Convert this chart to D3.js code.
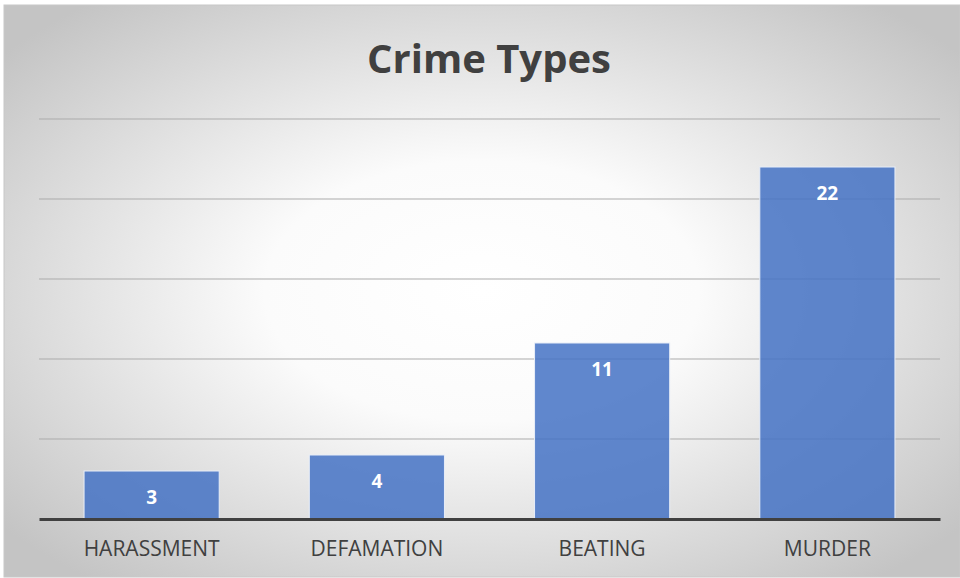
<!DOCTYPE html>
<html>
<head>
<meta charset="utf-8">
<script src="https://cdn.jsdelivr.net/npm/d3@7"></script>
<style>
  body { margin: 0; background: #fff; }
  svg { display: block; }
</style>
</head>
<body>
<div class="container"></div>
<script>
"use strict";

var categories = ["HARASSMENT", "DEFAMATION", "BEATING", "MURDER"];
var values = [3, 4, 11, 22];
var gridTicks = [0, 5, 10, 15, 20, 25];

var w = 960, h = 578;
var plotLeft = 39, plotRight = 940, plotTop = 119, plotBottom = 519;

var svg = d3.select(".container").append("svg").attr("width", w).attr("height", h);

//Background gradient
var defs = svg.append("defs");
var grad = defs.append("radialGradient").attr("id", "bg").attr("cx", "50%").attr("cy", "50%").attr("r", "65%");
grad.append("stop").attr("offset", "0%").attr("stop-color", "#ffffff");
grad.append("stop").attr("offset", "35%").attr("stop-color", "#fbfbfb");
grad.append("stop").attr("offset", "100%").attr("stop-color", "#c4c4c4");

svg.append("rect").attr("x", 4).attr("y", 5).attr("width", 956).attr("height", 572)
  .attr("fill", "url(#bg)").attr("stroke", "#c8c8c8").attr("stroke-width", 1);

//Title
svg.append("text").attr("x", 489).attr("y", 73).attr("text-anchor", "middle")
  .style("font-family", "'Open Sans', sans-serif").style("font-weight", "bold")
  .style("font-size", "40px").style("fill", "#404040").text("Crime Types");

var xScale = d3.scaleBand().domain(categories).range([plotLeft, plotRight]).paddingInner(0.4).paddingOuter(0.2);
var yScale = d3.scaleLinear().domain([0, 25]).range([plotBottom, plotTop]);

//Gridlines
svg.append("g").selectAll("line").data(gridTicks.slice(1)).enter().append("line")
  .attr("x1", plotLeft).attr("x2", plotRight)
  .attr("y1", function (d) { return yScale(d); })
  .attr("y2", function (d) { return yScale(d); })
  .attr("stroke", "#ababab").attr("stroke-width", 1);

//Bars
svg.append("g").selectAll("rect").data(values).enter().append("rect")
  .attr("x", function (d, i) { return xScale(categories[i]); })
  .attr("y", function (d) { return yScale(d); })
  .attr("width", xScale.bandwidth())
  .attr("height", function (d) { return plotBottom - yScale(d); })
  .attr("fill", "#4472c4").attr("fill-opacity", 0.85)
  .attr("stroke", "#e8eef8").attr("stroke-width", 1);

//Value labels
svg.append("g").selectAll("text").data(values).enter().append("text")
  .attr("x", function (d, i) { return xScale(categories[i]) + xScale.bandwidth() / 2; })
  .attr("y", function (d) { return yScale(d) + 33; })
  .attr("text-anchor", "middle")
  .style("font-family", "'Open Sans', sans-serif").style("font-weight", "bold")
  .style("font-size", "19px").style("fill", "#ffffff")
  .text(function (d) { return d; });

//X axis
var xAxis = d3.axisBottom(xScale).tickSize(0).tickPadding(22);
var xAxisGroup = svg.append("g").attr("transform", "translate(0," + plotBottom + ")").call(xAxis);
xAxisGroup.select(".domain").attr("stroke", "#404040").attr("stroke-width", 3);
xAxisGroup.selectAll("text").style("font-family", "'Open Sans', sans-serif")
  .style("font-size", "21px").style("fill", "#404040");
</script>
</body>
</html>
